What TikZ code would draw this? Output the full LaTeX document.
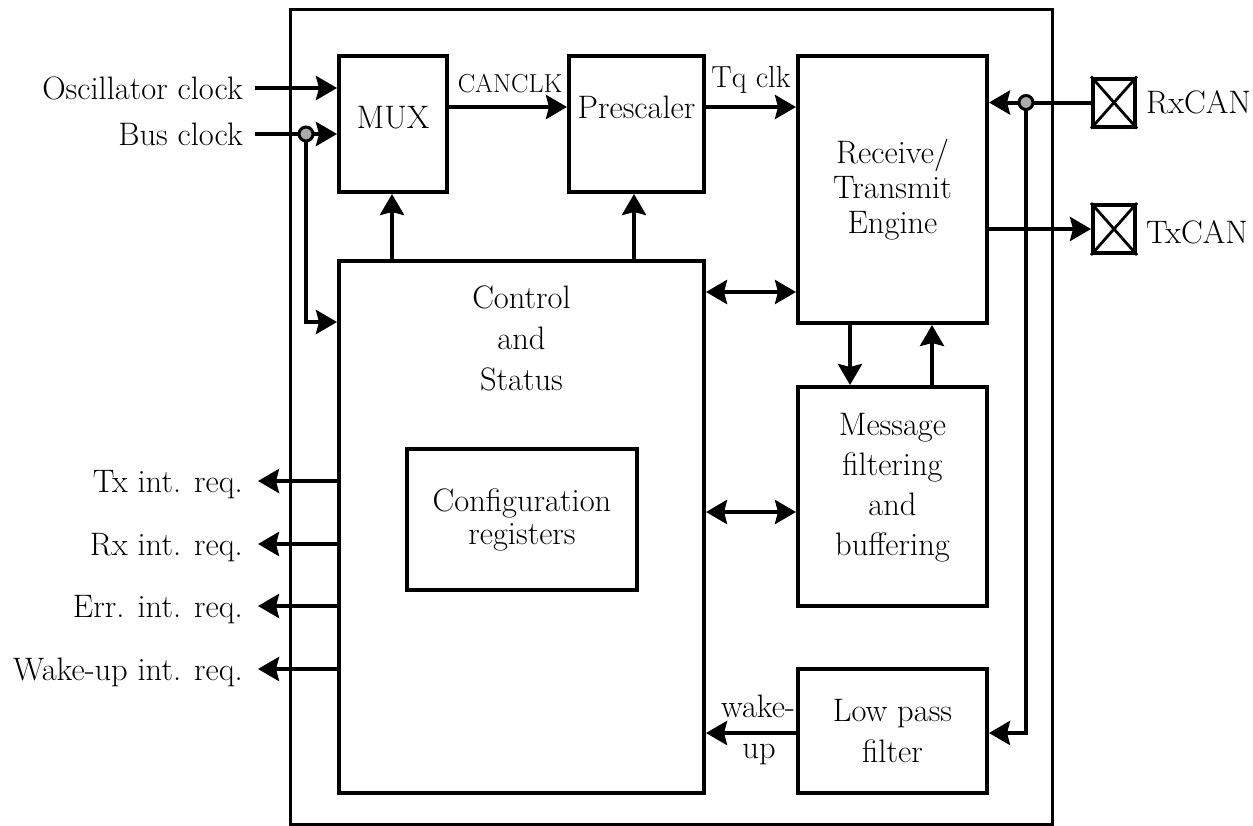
\documentclass[tikz,border=0pt]{standalone}
\usetikzlibrary{arrows.meta}
\begin{document}
\begin{tikzpicture}[x=1pt,y=-1pt,
  txt/.style={font=\fontsize{32.5}{41}\selectfont, inner sep=0pt},
  blk/.style={draw, line width=4pt, inner sep=0pt, align=center,
              font=\fontsize{32.5}{41}\selectfont},
  pin/.style={draw, line width=4pt, inner sep=0pt, minimum width=42pt, minimum height=48pt},
  tip/.tip={Stealth[length=21pt,width=24pt,inset=3pt]},
  arr/.style={line width=4pt, -tip},
  darr/.style={line width=4pt, tip-tip},
  junc/.style={circle, draw, line width=3pt, fill=gray!65, inner sep=0pt, minimum size=14pt}]
\useasboundingbox (0,0) rectangle (1253,825);

% enclosing module outline
\node[draw, line width=3pt, minimum width=762pt, minimum height=815pt, inner sep=0pt] (frame) at (671,416.5) {};

% functional blocks
\node[blk, minimum width=108pt, minimum height=136pt] (mux) at (393,124) {};
\node[blk, minimum width=135pt, minimum height=136pt] (pre) at (636.5,124) {};
\node[blk, minimum width=189pt, minimum height=267pt, font=\fontsize{32.5}{35}\selectfont] (rte) at (892.5,189.5) {Receive/\\Transmit\\Engine};
\node[blk, minimum width=365pt, minimum height=532pt] (ctl) at (521.5,527) {};
\node[blk, minimum width=189pt, minimum height=219pt] (msg) at (892.5,496.5) {};
\node[blk, minimum width=189pt, minimum height=124pt] (lpf) at (892.5,731) {Low pass\\filter};
\node[blk, minimum width=230pt, minimum height=141pt, font=\fontsize{32.5}{33}\selectfont] (cfg) at (522,519.5) {Configuration\\registers};

\node[txt, anchor=base] (muxt) at (393,128) {MUX};
\node[txt, anchor=base] (pret) at (636.5,118) {Prescaler};
\node[txt, anchor=north, align=center] (ctlt) at (521.5,286) {Control\\and\\Status};
\node[txt, align=center, font=\fontsize{32.5}{40}\selectfont] (msgt) at (892.5,488) {Message\\filtering\\and\\buffering};

% CAN pins
\node[pin] (rxpin) at (1114,102.5) {};
\node[pin] (txpin) at (1114,229) {};
\foreach \p in {rxpin,txpin}{
  \draw[line width=2.8pt] (\p.north west) -- (\p.south east);
  \draw[line width=2.8pt] (\p.south west) -- (\p.north east);
}
\node[txt, anchor=base west] (rxl) at (1146,113) {RxCAN};
\node[txt, anchor=base west] (txl) at (1146,243) {TxCAN};

% clock inputs
\coordinate (oscin) at (255,88);
\coordinate (busin) at (255,134);
\coordinate (busdn) at (306,322);
\draw[arr] (oscin) -- (mux.west |- oscin);
\draw[arr] (busin) -- (mux.west |- busin);
\draw[arr] (busin -| busdn) -- (busdn) -- (ctl.west |- busdn);
\node[junc] (busj) at (busin -| busdn) {};
\node[txt, anchor=base east] (oscl) at (243,99) {Oscillator clock};
\node[txt, anchor=base east] (busl) at (243,145) {Bus clock};

% clock chain
\coordinate (yclk) at (0,107);
\draw[arr] (mux.east |- yclk) -- (pre.west |- yclk);
\draw[arr] (pre.east |- yclk) -- (rte.west |- yclk);
\node[txt, font=\fontsize{26}{30}\selectfont, anchor=base] (canl) at (510,92) {CANCLK};
\node[txt, font=\fontsize{30.5}{34}\selectfont, anchor=base] (tql) at (751,87) {Tq clk};

% control paths
\coordinate (xmux) at (392,0);
\coordinate (xpre) at (634,0);
\draw[arr] (ctl.north -| xmux) -- (mux.south -| xmux);
\draw[arr] (ctl.north -| xpre) -- (pre.south -| xpre);
\coordinate (yrte) at (0,292);
\coordinate (ymsg) at (0,512);
\draw[darr] (ctl.east |- yrte) -- (rte.west |- yrte);
\draw[darr] (ctl.east |- ymsg) -- (msg.west |- ymsg);
\coordinate (xdn) at (850,0);
\coordinate (xup) at (932,0);
\draw[arr] (rte.south -| xdn) -- (msg.north -| xdn);
\draw[arr] (msg.north -| xup) -- (rte.south -| xup);

% CAN receive / transmit
\coordinate (rxdn) at (1026,733);
\draw[arr] (rxpin.west) -- (rte.east |- rxpin.west);
\draw[arr] (rxpin.west -| rxdn) -- (rxdn) -- (lpf.east |- rxdn);
\node[junc] (rxj) at (rxpin.west -| rxdn) {};
\draw[arr] (rte.east |- txpin.west) -- (txpin.west);

% wake-up
\coordinate (ywk) at (0,733);
\draw[arr] (lpf.west |- ywk) -- (ctl.east |- ywk);
\node[txt, anchor=base] (wk1) at (758,717) {wake-};
\node[txt, anchor=base] (wk2) at (759,758) {up};

% interrupt requests
\foreach \y/\t/\n in {481/Tx int. req./itx, 544/Rx int. req./irx, 606/Err. int. req./ierr, 669/Wake-up int. req./iwk}{
  \coordinate (\n) at (258,\y);
  \draw[arr] (ctl.west |- \n) -- (\n);
  \node[txt, anchor=base east] (\n l) at (243,\y+11) {\t};
}
\end{tikzpicture}
\end{document}
